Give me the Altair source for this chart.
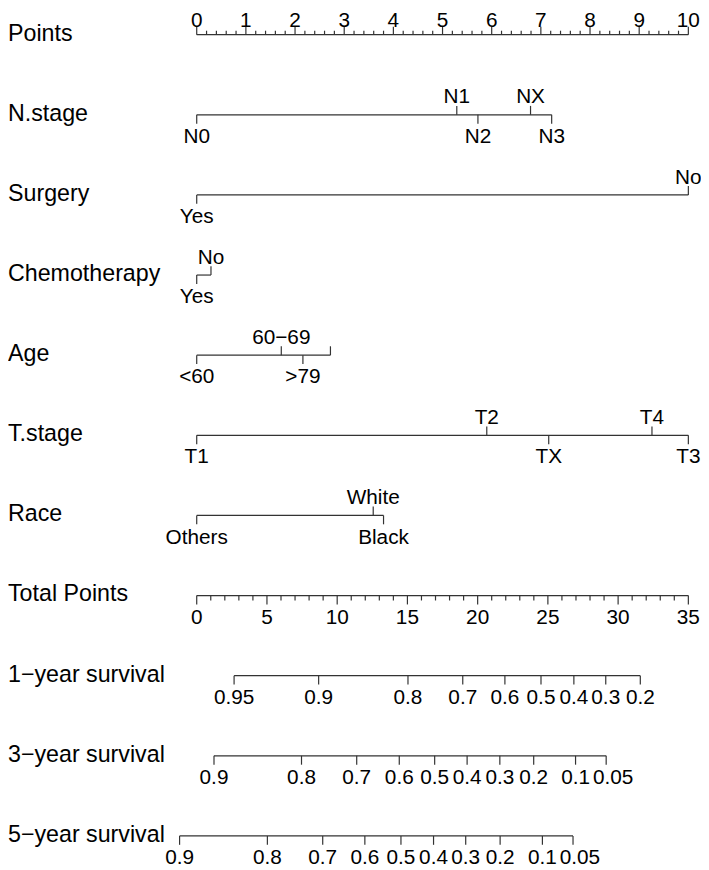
import altair as alt
import pandas as pd
import numpy as np

# ---------------- data ----------------
ROW_NAMES = ["Points", "N.stage", "Surgery", "Chemotherapy", "Age", "T.stage",
             "Race", "Total Points", "1\u2212year survival", "3\u2212year survival",
             "5\u2212year survival"]

POINTS_MAJOR = list(range(0, 11))
POINTS_MINOR_STEP = 0.2

NSTAGE_LEVELS = ["N0", "N1", "N2", "NX", "N3"]
NSTAGE_POINTS = [0.0, 5.29, 5.72, 6.79, 7.22]
NSTAGE_SIDE = ["below", "above", "below", "above", "below"]

SURGERY_LEVELS = ["Yes", "No"]
SURGERY_POINTS = [0.0, 10.0]
SURGERY_SIDE = ["below", "above"]

CHEMO_LEVELS = ["Yes", "No"]
CHEMO_POINTS = [0.0, 0.29]
CHEMO_SIDE = ["below", "above"]

AGE_LEVELS = ["<60", "60\u221269", ">79", ""]
AGE_POINTS = [0.0, 1.72, 2.16, 2.72]
AGE_SIDE = ["below", "above", "below", "above"]

TSTAGE_LEVELS = ["T1", "T2", "TX", "T4", "T3"]
TSTAGE_POINTS = [0.0, 5.90, 7.16, 9.26, 10.0]
TSTAGE_SIDE = ["below", "above", "below", "above", "below"]

RACE_LEVELS = ["Others", "White", "Black"]
RACE_POINTS = [0.0, 3.59, 3.80]
RACE_SIDE = ["below", "above", "below"]

TOTAL_MAJOR = list(range(0, 36, 5))
TOTAL_MINOR_STEP = 1
TOTAL_PER_POINT = 3.5

SURV1_LABELS = ["0.95", "0.9", "0.8", "0.7", "0.6", "0.5", "0.4", "0.3", "0.2"]
SURV1_TOTAL = [2.66, 8.68, 15.04, 18.94, 21.94, 24.51, 26.85, 29.12, 31.58]

SURV3_LABELS = ["0.9", "0.8", "0.7", "0.6", "0.5", "0.4", "0.3", "0.2", "0.1", "0.05"]
SURV3_TOTAL = [1.23, 7.46, 11.39, 14.42, 16.94, 19.25, 21.58, 23.99, 26.97, 29.15]

SURV5_LABELS = ["0.9", "0.8", "0.7", "0.6", "0.5", "0.4", "0.3", "0.2", "0.1", "0.05"]
SURV5_TOTAL = [-1.22, 5.03, 8.97, 11.97, 14.54, 16.86, 19.15, 21.60, 24.61, 26.79]

# ---------------- build tables ----------------
lines, ticks = [], []

def add_row(row, xs, labels, sides, kind="major"):
    lines.append({"row": row, "x0": min(xs), "x1": max(xs)})
    for x, lab, side in zip(xs, labels, sides):
        ticks.append({"row": row, "x": x, "label": lab, "side": side, "kind": kind})

# Points axis (labels above)
add_row(0, POINTS_MAJOR, [str(v) for v in POINTS_MAJOR], ["top"] * len(POINTS_MAJOR))
for v in np.arange(0, 10 + 1e-9, POINTS_MINOR_STEP):
    if abs(v - round(v)) > 1e-6:
        ticks.append({"row": 0, "x": float(v), "label": "", "side": "top", "kind": "minor"})

add_row(1, NSTAGE_POINTS, NSTAGE_LEVELS, NSTAGE_SIDE)
add_row(2, SURGERY_POINTS, SURGERY_LEVELS, SURGERY_SIDE)
add_row(3, CHEMO_POINTS, CHEMO_LEVELS, CHEMO_SIDE)
add_row(4, AGE_POINTS, AGE_LEVELS, AGE_SIDE)
add_row(5, TSTAGE_POINTS, TSTAGE_LEVELS, TSTAGE_SIDE)
add_row(6, RACE_POINTS, RACE_LEVELS, RACE_SIDE)

# Total points axis
add_row(7, [t / TOTAL_PER_POINT for t in TOTAL_MAJOR], [str(t) for t in TOTAL_MAJOR],
        ["below"] * len(TOTAL_MAJOR))
for t in range(0, 36, TOTAL_MINOR_STEP):
    if t % 5 != 0:
        ticks.append({"row": 7, "x": t / TOTAL_PER_POINT, "label": "", "side": "below", "kind": "minor"})

add_row(8, [t / TOTAL_PER_POINT for t in SURV1_TOTAL], SURV1_LABELS, ["below"] * len(SURV1_LABELS))
add_row(9, [t / TOTAL_PER_POINT for t in SURV3_TOTAL], SURV3_LABELS, ["below"] * len(SURV3_LABELS))
add_row(10, [t / TOTAL_PER_POINT for t in SURV5_TOTAL], SURV5_LABELS, ["below"] * len(SURV5_LABELS))

lines_df = pd.DataFrame(lines)
ticks_df = pd.DataFrame(ticks)
names_df = pd.DataFrame({"row": list(range(len(ROW_NAMES))), "name": ROW_NAMES})

# ---------------- chart ----------------
W, H = 701, 862
X0_PX, PX_PER_PT = 198.9 - 8, 49.73
XDOM = [-X0_PX / PX_PER_PT, (W - X0_PX) / PX_PER_PT]
Y0_PX, PX_PER_ROW = 22.0, 81.05
YDOM = [-Y0_PX / PX_PER_ROW, (H - Y0_PX) / PX_PER_ROW]

FONT = "Liberation Sans"
LINE = "#333333"
SW = 1.2
TICK_FS = 21
ROW_FS = 23.5

xs = alt.Scale(domain=XDOM, nice=False, zero=False)
ys = alt.Scale(domain=YDOM, nice=False, zero=False, reverse=True)
X = lambda f: alt.X(f, type="quantitative", scale=xs, axis=None)
Y = lambda f: alt.Y(f, type="quantitative", scale=ys, axis=None)

base_lines = alt.Chart(lines_df).mark_rule(stroke=LINE, strokeWidth=SW).encode(
    x=X("x0"), x2="x1", y=Y("row"))

def tick_layer(side, kind, off):
    return alt.Chart(ticks_df).transform_filter(
        (alt.datum.side == side) & (alt.datum.kind == kind)
    ).mark_rule(stroke=LINE, strokeWidth=SW, y2Offset=off).encode(
        x=X("x"), y=Y("row"), y2="row")

tick_layers = [tick_layer("top", "major", -8), tick_layer("top", "minor", -4),
               tick_layer("above", "major", -9), tick_layer("below", "major", 9),
               tick_layer("below", "minor", 5)]

def label_layer(cond, dy, dx=0):
    return alt.Chart(ticks_df).transform_filter(cond).mark_text(
        font=FONT, fontSize=TICK_FS, baseline="middle", align="center", dy=dy, dx=dx,
        color="black").encode(x=X("x"), y=Y("row"), text="label:N")

lab_top = label_layer((alt.datum.side == "top") & (alt.datum.label != ""), -13.5)
lab_above = label_layer((alt.datum.side == "above") & (alt.datum.label != ""), -17.5)
lab_below = label_layer((alt.datum.side == "below") & (alt.datum.label != "")
                        & (alt.datum.label != "0.05"), 22.5)
# the last survival label sits a little right of its tick in the reference
lab_last = label_layer((alt.datum.side == "below") & (alt.datum.label == "0.05"), 22.5, 7)

row_labels = alt.Chart(names_df).mark_text(
    font=FONT, fontSize=ROW_FS, baseline="middle", align="left", dy=-1, color="black"
).encode(x=alt.value(0), y=Y("row"), text="name:N")

chart = alt.layer(base_lines, *tick_layers, lab_top, lab_above, lab_below, lab_last,
                  row_labels).properties(
    width=W, height=H, padding=0, autosize=alt.AutoSizeParams(type="none"),
    background="white"
).configure_view(stroke=None)

chart.save("out.html", embed_options={"renderer": "svg", "actions": False})
